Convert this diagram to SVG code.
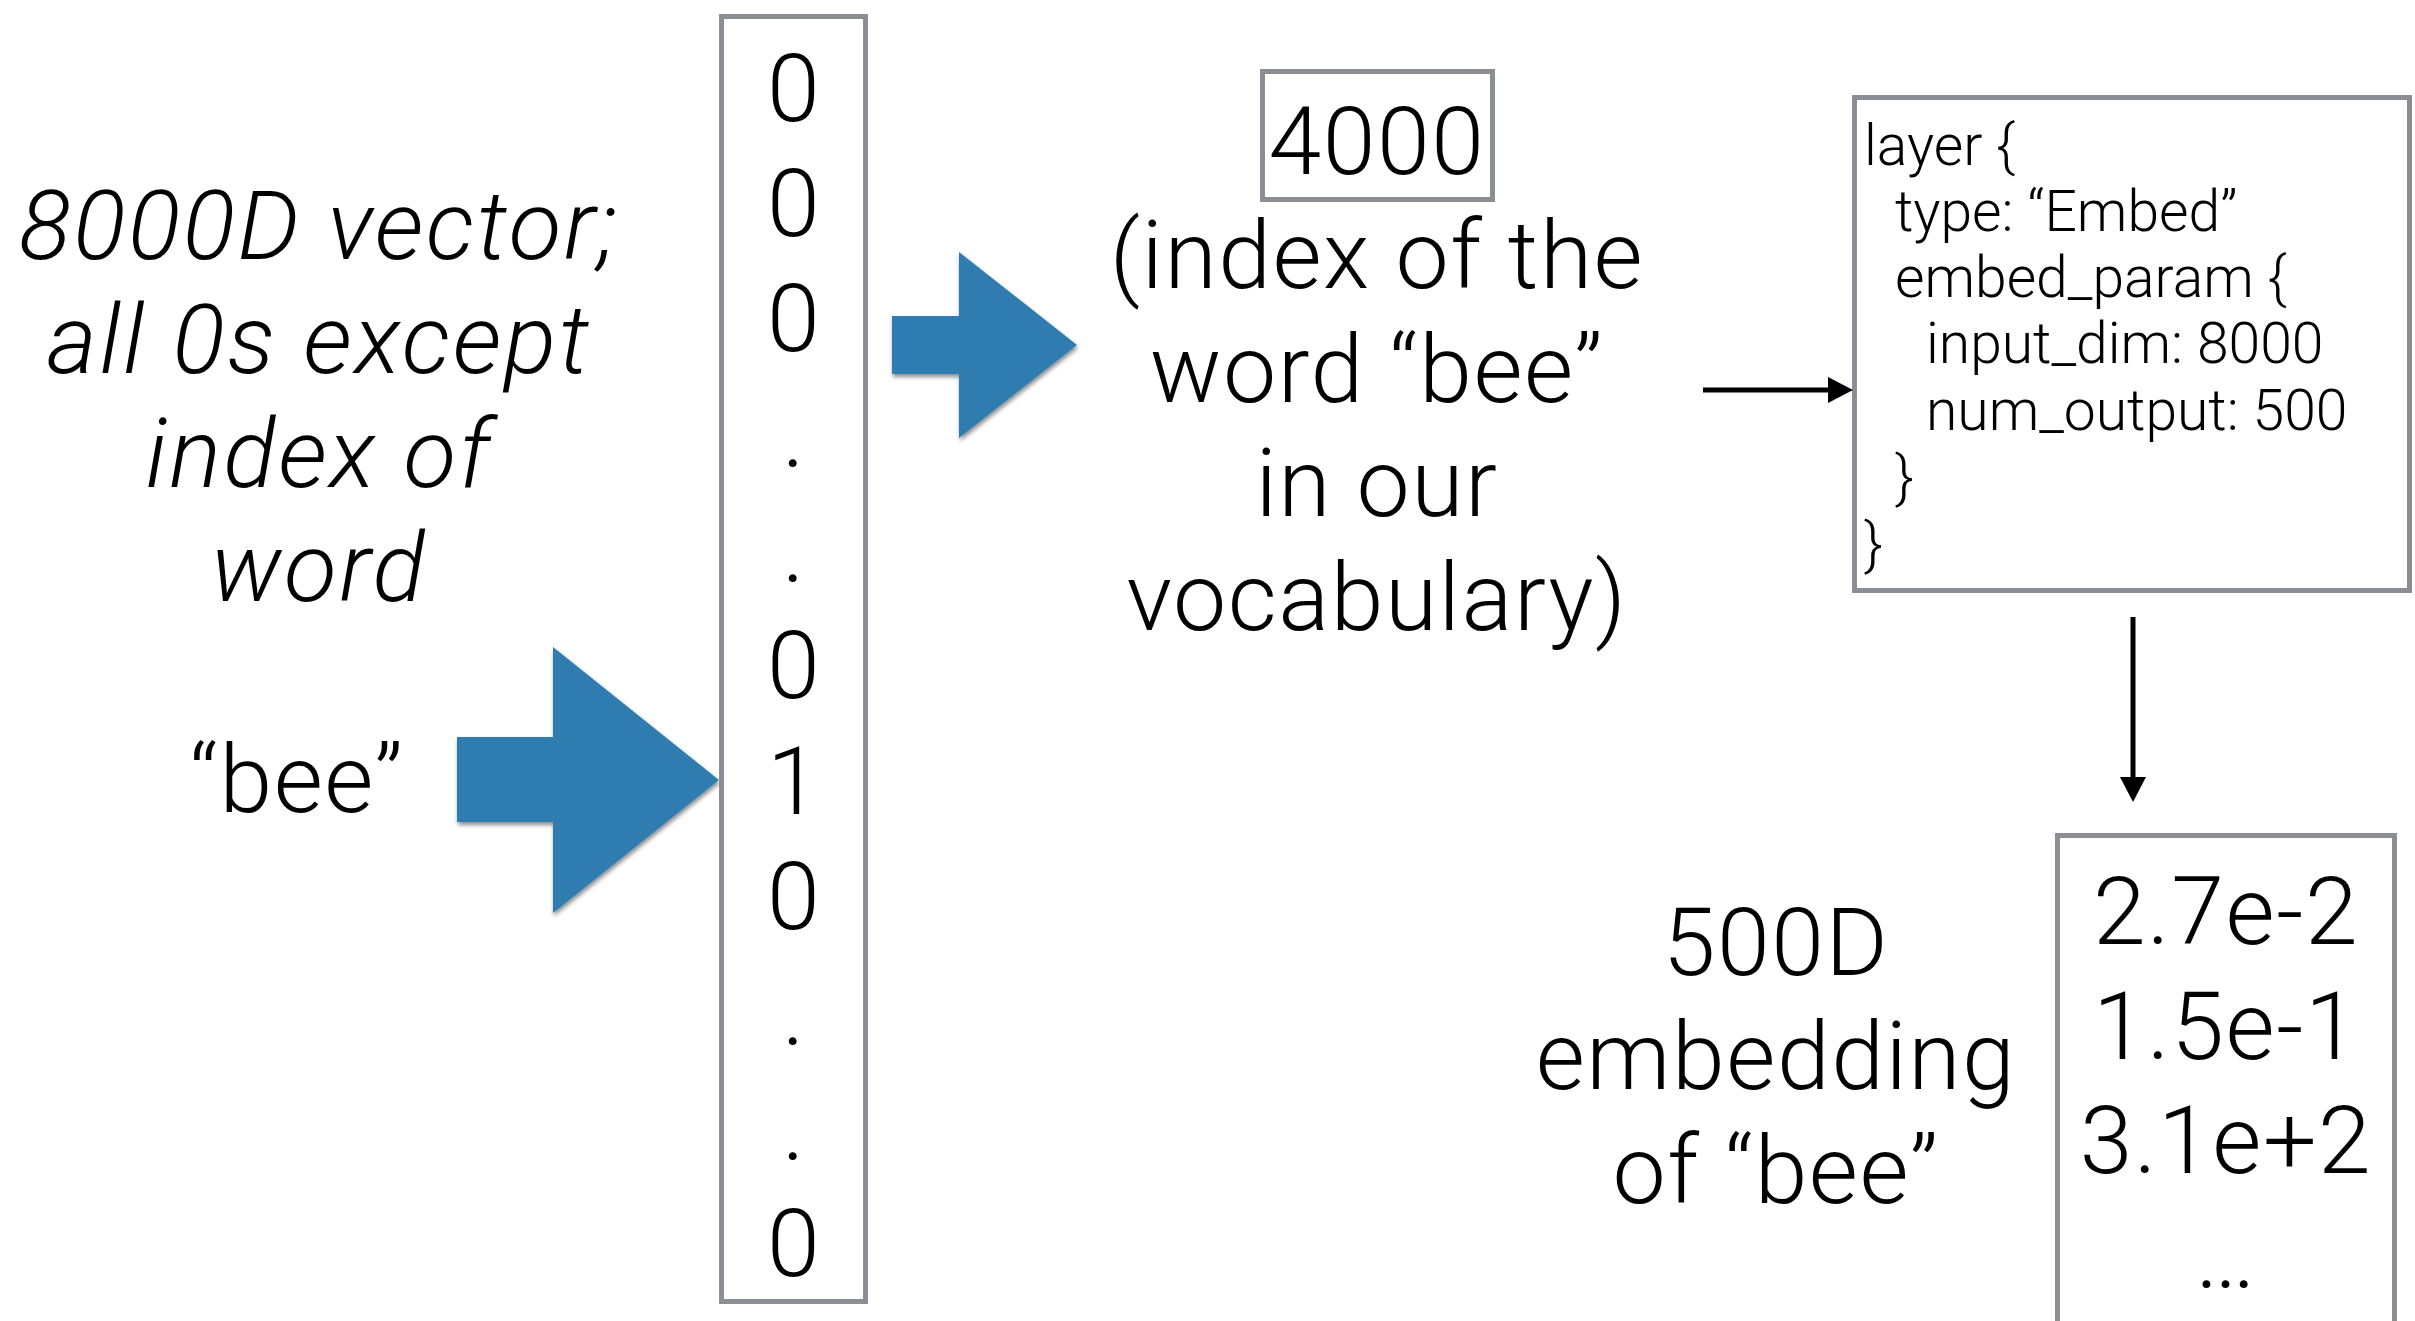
<svg xmlns="http://www.w3.org/2000/svg" width="2415" height="1321" viewBox="0 0 2415 1321">
  <style>
    .t { font-family: "Roboto", "Liberation Sans", sans-serif; font-weight: 300; fill: #000; }
    .big { font-size: 95px; text-anchor: middle; letter-spacing: 1.5px; }
    .it { font-style: italic; font-size: 97px; letter-spacing: 2.5px; }
    .code { font-size: 57px; }
    .box { fill: #fff; stroke: #8b8e92; stroke-width: 5; }
    .blue { fill: #2f7bb0; filter: url(#shadow); }
    .link { stroke: #000; stroke-width: 5; fill: none; marker-end: url(#head); }
  </style>
  <defs>
    <filter id="shadow" x="-10%" y="-10%" width="130%" height="130%">
      <feDropShadow dx="1" dy="3" stdDeviation="2" flood-color="#000" flood-opacity="0.45"/>
    </filter>
    <marker id="head" markerUnits="userSpaceOnUse" markerWidth="26" markerHeight="28" refX="0" refY="13" orient="auto" viewBox="0 0 26 26">
      <path d="M0,0 L25,13 L0,26 z" fill="#000"/>
    </marker>
  </defs>

  <!-- caption for the one-hot input vector -->
  <g id="caption-onehot" class="t big it">
    <text x="319" y="259">8000D vector;</text>
    <text x="319" y="373">all 0s except</text>
    <text x="319" y="487">index of</text>
    <text x="319" y="601">word</text>
  </g>

  <!-- input word -->
  <g id="word-bee" class="t big">
    <text x="297" y="812">“bee”</text>
  </g>

  <!-- blue arrow: word into one-hot vector -->
  <g id="arrow-word">
    <polygon class="blue" points="457,737 553,737 553,647 719,780 553,913 553,822 457,822"/>
  </g>

  <!-- one-hot vector -->
  <g id="onehot-vector">
    <rect class="box" x="721.5" y="16.5" width="144" height="1285"/>
    <g class="t big">
      <text x="794" y="121">0</text>
      <text x="794" y="236">0</text>
      <text x="794" y="351">0</text>
      <text x="794" y="467">.</text>
      <text x="794" y="582">.</text>
      <text x="794" y="698">0</text>
      <text x="794" y="814">1</text>
      <text x="794" y="929">0</text>
      <text x="794" y="1045">.</text>
      <text x="794" y="1160">.</text>
      <text x="794" y="1276">0</text>
    </g>
  </g>

  <!-- blue arrow: vector to index -->
  <g id="arrow-index">
    <polygon class="blue" points="892,316 959,316 959,252 1077,345 959,438 959,374 892,374"/>
  </g>

  <!-- word index -->
  <g id="word-index">
    <rect class="box" x="1262.5" y="71.5" width="230" height="128"/>
    <g class="t big">
      <text x="1377" y="174">4000</text>
      <text x="1377" y="288">(index of the</text>
      <text x="1377" y="402">word “bee”</text>
      <text x="1377" y="516">in our</text>
      <text x="1377" y="630">vocabulary)</text>
    </g>
  </g>

  <!-- embed layer definition -->
  <g id="embed-layer">
    <rect class="box" x="1854.5" y="97.5" width="555" height="493"/>
    <g class="t code">
      <text x="1864" y="165">layer {</text>
      <text x="1895" y="231">type: “Embed”</text>
      <text x="1895" y="297">embed_param {</text>
      <text x="1926" y="363">input_dim: 8000</text>
      <text x="1926" y="430">num_output: 500</text>
      <text x="1895" y="496">}</text>
      <text x="1864" y="563">}</text>
    </g>
  </g>

  <!-- resulting embedding -->
  <g id="embedding-label" class="t big">
    <text x="1776" y="975">500D</text>
    <text x="1776" y="1089">embedding</text>
    <text x="1776" y="1203">of “bee”</text>
  </g>

  <g id="embedding-vector">
    <rect class="box" x="2057.5" y="835.5" width="337" height="520"/>
    <g class="t big">
      <text x="2226" y="944">2.7e-2</text>
      <text x="2226" y="1059">1.5e-1</text>
      <text x="2226" y="1173">3.1e+2</text>
      <text x="2226" y="1288">…</text>
    </g>
  </g>

  <!-- connectors -->
  <g id="connectors">
    <line class="link" x1="1703" y1="390" x2="1828" y2="390"/>
    <line class="link" x1="2133" y1="617" x2="2133" y2="777"/>
  </g>
</svg>
